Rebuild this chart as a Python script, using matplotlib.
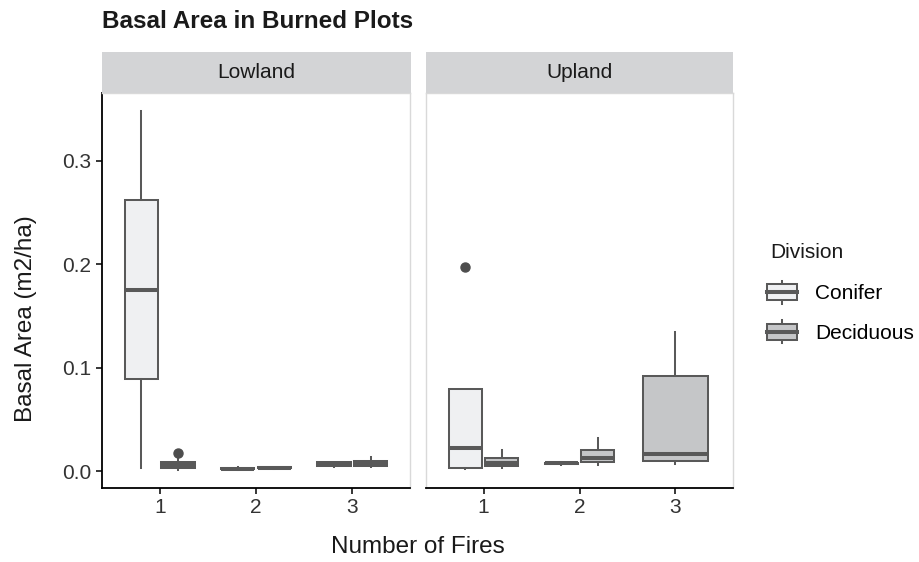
import numpy as np
import matplotlib.pyplot as plt
from matplotlib.legend_handler import HandlerBase
from matplotlib.patches import Rectangle, Patch
from matplotlib.lines import Line2D

plt.rcParams['font.family'] = ['Liberation Sans', 'DejaVu Sans']

# box summaries, one entry per box
low_fire = [1, 1, 2, 2, 3, 3]
low_div = ['Conifer', 'Deciduous', 'Conifer', 'Deciduous', 'Conifer', 'Deciduous']
low_whislo = [0.003, 0.001, 0.001, 0.002, 0.0035, 0.004]
low_q1 = [0.089, 0.003, 0.0015, 0.0025, 0.005, 0.0045]
low_med = [0.175, 0.006, 0.002, 0.003, 0.007, 0.007]
low_q3 = [0.262, 0.009, 0.003, 0.0035, 0.009, 0.0095]
low_whishi = [0.348, 0.012, 0.004, 0.004, 0.009, 0.0138]
low_out = [[], [0.017], [], [], [], []]

up_fire = [1, 1, 2, 2, 3]
up_div = ['Conifer', 'Deciduous', 'Conifer', 'Deciduous', 'Deciduous']
up_whislo = [0.002, 0.003, 0.006, 0.006, 0.007]
up_q1 = [0.003, 0.005, 0.007, 0.0085, 0.010]
up_med = [0.022, 0.0075, 0.0075, 0.013, 0.0165]
up_q3 = [0.079, 0.013, 0.008, 0.020, 0.092]
up_whishi = [0.079, 0.020, 0.009, 0.0315, 0.134]
up_out = [[0.197], [], [], [], []]

divisions = ['Conifer', 'Deciduous']
fills = {'Conifer': '#EFF0F2', 'Deciduous': '#C5C6C8'}
edge = '#595959'
lw = 1.45

W, H = 919, 562
fig = plt.figure(figsize=(W / 100, H / 100), dpi=100)


def fx(px):
    return px / W


def fy(py):
    return 1 - py / H


def draw_panel(ax, fire, div, whislo, q1, med, q3, whishi, out):
    stats, pos, widths = [], [], []
    for i in range(len(fire)):
        n = fire.count(fire[i])
        k = [j for j in range(len(fire)) if fire[j] == fire[i]].index(i)
        if n == 1:
            pos.append(fire[i])
            widths.append(0.68)
        else:
            pos.append(fire[i] + (k - 0.5) * 0.38)
            widths.append(0.345)
        stats.append(dict(whislo=whislo[i], q1=q1[i], med=med[i], q3=q3[i],
                          whishi=whishi[i], fliers=out[i]))
    res = ax.bxp(stats, positions=pos, widths=widths, patch_artist=True,
                 showcaps=False, manage_ticks=False,
                 boxprops=dict(edgecolor=edge, linewidth=lw),
                 whiskerprops=dict(color=edge, linewidth=lw),
                 medianprops=dict(color=edge, linewidth=2 * lw, solid_capstyle='butt'),
                 flierprops=dict(marker='o', markerfacecolor='#4D4D4D',
                                 markeredgecolor='#4D4D4D', markersize=6.5))
    for b, d in zip(res['boxes'], div):
        b.set_facecolor(fills[d])
    ax.set_xlim(0.4, 3.6)
    ax.set_ylim(-0.01644, 0.3656)
    ax.set_xticks([1, 2, 3])
    ax.set_xticklabels(['1', '2', '3'])
    for s in ax.spines.values():
        s.set_color('#D9D9D9')
        s.set_linewidth(1.0)
    ax.spines['bottom'].set_color('black')
    ax.spines['bottom'].set_linewidth(1.3)
    ax.tick_params(labelsize=15, length=4.5, width=1.1, color='black',
                   labelcolor='#333333', pad=3)


panel_b = fy(488)
panel_h = (488 - 93) / H
ax1 = fig.add_axes([fx(102), panel_b, fx(410 - 102), panel_h])
ax2 = fig.add_axes([fx(426), panel_b, fx(733 - 426), panel_h])
draw_panel(ax1, low_fire, low_div, low_whislo, low_q1, low_med, low_q3, low_whishi, low_out)
draw_panel(ax2, up_fire, up_div, up_whislo, up_q1, up_med, up_q3, up_whishi, up_out)

ax1.spines['left'].set_color('black')
ax1.spines['left'].set_linewidth(1.3)
ax1.set_yticks([0.0, 0.1, 0.2, 0.3])
ax1.set_yticklabels(['0.0', '0.1', '0.2', '0.3'])
ax2.set_yticks([])

# facet strips
for x0, x1, name in [(102, 410.7, 'Lowland'), (426, 733, 'Upland')]:
    sax = fig.add_axes([fx(x0), fy(93), fx(x1 - x0), (93 - 52) / H])
    sax.set_facecolor('#D3D4D6')
    sax.set_xticks([])
    sax.set_yticks([])
    for s in sax.spines.values():
        s.set_visible(False)
    sax.text(0.5, 0.5, name, ha='center', va='center', fontsize=15, color='#1A1A1A')

fig.text(fx(102), fy(21), 'Basal Area in Burned Plots', fontsize=17.5, fontweight='bold',
         ha='left', va='center', color='#1A1A1A')
fig.text(fx(418), fy(547), 'Number of Fires', fontsize=17.5, ha='center', va='center',
         color='#1A1A1A')
fig.text(fx(26), fy(319), 'Basal Area (m2/ha)', fontsize=17.5, ha='center', va='center',
         rotation=90, color='#1A1A1A')


class BoxKey(HandlerBase):
    def create_artists(self, legend, orig_handle, xdescent, ydescent, width, height,
                       fontsize, trans):
        x0, y0 = -xdescent, -ydescent
        fc = orig_handle.get_facecolor()
        cx = x0 + width / 2
        arts = [
            Line2D([cx, cx], [y0, y0 + 0.15 * height], color=edge, lw=lw, transform=trans),
            Line2D([cx, cx], [y0 + 0.85 * height, y0 + height], color=edge, lw=lw,
                   transform=trans),
            Rectangle((x0, y0 + 0.15 * height), width, 0.7 * height, facecolor=fc,
                      edgecolor=edge, lw=lw, transform=trans),
            Line2D([x0, x0 + width], [y0 + 0.5 * height] * 2, color=edge, lw=2 * lw,
                   transform=trans),
        ]
        return arts


fig.text(fx(770), fy(253), 'Division', fontsize=15, ha='left', va='center',
         color='#1A1A1A')
handles = [Patch(facecolor=fills[d], edgecolor=edge) for d in divisions]
leg = fig.legend(handles, divisions, loc='upper left', bbox_to_anchor=(fx(767), fy(281)),
                 frameon=False, fontsize=15,
                 handler_map={Patch: BoxKey()}, handlelength=1.45, handleheight=1.3,
                 handletextpad=0.85, labelspacing=0.8, borderpad=0, borderaxespad=0)

fig.savefig('out.png', dpi=100)
